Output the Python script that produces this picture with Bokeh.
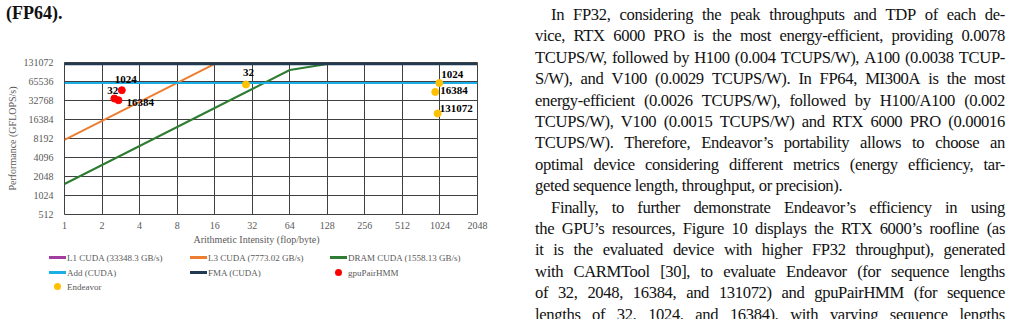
from bokeh.plotting import figure
from bokeh.models import (ColumnDataSource, Title, Div, NumeralTickFormatter, FixedTicker, Range1d)
from bokeh.layouts import row, column
from bokeh.embed import file_html
from bokeh.resources import INLINE
from bokeh.core.properties import value

# ---------------- data ----------------
ai_ticks = [1, 2, 4, 8, 16, 32, 64, 128, 256, 512, 1024, 2048]
perf_ticks = [512, 1024, 2048, 4096, 8192, 16384, 32768, 65536, 131072]

roof_ai = [1, 2, 4, 8, 16, 32, 64, 128, 256, 512, 1024, 2048]
l1_ai = []
l1_perf = []
l3_perf = [7773, 15546, 31092, 62184, 124368, 124000, 124000, 124000, 124000, 124000, 124000, 124000]
dram_perf = [1558, 3116, 6233, 12465, 24930, 49860, 99720, 124000, 124000, 124000, 124000, 124000]
add_perf = [62000, 62000, 62000, 62000, 62000, 62000, 62000, 62000, 62000, 62000, 62000, 62000]
fma_perf = [124000, 124000, 124000, 124000, 124000, 124000, 124000, 124000, 124000, 124000, 124000, 124000]

gpu_len = ["32", "1024", "16384"]
gpu_ai = [2.51, 2.88, 2.71]
gpu_perf = [35200, 47700, 33100]

end_len = ["32", "1024", "16384", "131072"]
end_ai = [28.5, 1011, 939, 981]
end_perf = [58800, 62000, 44800, 20400]

legend_labels = ["L1 CUDA (33348.3 GB/s)", "L3 CUDA (7773.02 GB/s)", "DRAM CUDA (1558.13 GB/s)",
                 "Add (CUDA)", "FMA (CUDA)", "gpuPairHMM", "Endeavor"]

# ---------------- styles / layout constants ----------------
SERIF = "Liberation Serif"
GRAY = "#595959"
GRID = "#404040"
C_L1, C_L3, C_DRAM = "#A23DA2", "#ED7D31", "#2E7D32"
C_ADD, C_FMA, C_GPU, C_END = "#1AAFE6", "#1F3A52", "#FF0000", "#FFC000"
legend_colors = [C_L1, C_L3, C_DRAM, C_ADD, C_FMA, C_GPU, C_END]
legend_kind = ["line"] * 5 + ["dot"] * 2

gpu_dx = [-7, -7, 8]
gpu_dy = [-8, -11, 2]
end_dx = [-3, 2, 5, 2]
end_dy = [-12, -9, -1, -5]

# ---------------- caption fragment above chart ----------------
fp64 = Div(text=('<div style="position:relative;width:500px;height:30px;">'
                 '<div style="position:absolute;left:6px;top:3px;font-family:\'Liberation Serif\',serif;'
                 'font-weight:bold;font-size:18px;line-height:20px;color:#111;white-space:nowrap;">'
                 '(FP64).</div></div>'),
           width=500, height=30, margin=0)

# ---------------- main chart ----------------
p = figure(width=500, height=220, x_axis_type="log", y_axis_type="log",
           x_range=Range1d(1, 2048), y_range=Range1d(512, 131072),
           output_backend="svg", toolbar_location=None,
           min_border_left=64, min_border_right=23, min_border_top=32, min_border_bottom=36)
p.background_fill_color = "white"
p.border_fill_color = "white"
p.outline_line_color = GRID
p.outline_line_width = 1

for ax, ticks in ((p.xaxis[0], ai_ticks), (p.yaxis[0], perf_ticks)):
    ax.ticker = FixedTicker(ticks=ticks)
    ax.formatter = NumeralTickFormatter(format="0")
    ax.axis_line_color = None
    ax.major_tick_line_color = None
    ax.minor_tick_line_color = None
    ax.major_tick_out = 0
    ax.major_tick_in = 0
    ax.minor_tick_out = 0
    ax.minor_tick_in = 0
    ax.major_label_text_font = SERIF
    ax.major_label_text_font_size = "10px"
    ax.major_label_text_color = GRAY
p.xaxis.major_label_standoff = 7
p.yaxis.major_label_standoff = 11

p.yaxis.axis_label = "Performance (GFLOPS/s)"
p.yaxis.axis_label_text_font = SERIF
p.yaxis.axis_label_text_font_size = "10px"
p.yaxis.axis_label_text_font_style = "normal"
p.yaxis.axis_label_text_color = GRAY
p.yaxis.axis_label_standoff = 3

p.xgrid.ticker = FixedTicker(ticks=ai_ticks)
p.ygrid.ticker = FixedTicker(ticks=perf_ticks)
p.xgrid.grid_line_color = GRID
p.ygrid.grid_line_color = GRID

xt = Title(text="Arithmetic Intensity (flop/byte)", align="left", offset=129,
           text_font=SERIF, text_font_size="10px", text_font_style="normal",
           text_color=GRAY, standoff=0)
p.add_layout(xt, "below")

p.line(l1_ai, l1_perf, line_color=C_L1, line_width=2.5)
p.line(roof_ai, dram_perf, line_color=C_DRAM, line_width=2)
p.line(roof_ai, l3_perf, line_color=C_L3, line_width=2)
p.line(roof_ai, add_perf, line_color=C_ADD, line_width=2)
p.line(roof_ai, fma_perf, line_color=C_FMA, line_width=2.5)

gsrc = ColumnDataSource(dict(x=gpu_ai, y=gpu_perf, t=gpu_len, dx=gpu_dx, dy=gpu_dy))
esrc = ColumnDataSource(dict(x=end_ai, y=end_perf, t=end_len, dx=end_dx, dy=end_dy))
p.scatter("x", "y", source=gsrc, size=7, fill_color=C_GPU, line_color=C_GPU)
p.scatter("x", "y", source=esrc, size=7, fill_color=C_END, line_color=C_END)
for src in (gsrc, esrc):
    p.text("x", "y", text="t", source=src, x_offset="dx", y_offset="dy",
           text_font=value(SERIF), text_font_style="bold", text_font_size="11px",
           text_align="left", text_baseline="middle", text_color="black")

# ---------------- legend (HTML block under the chart) ----------------
col_x = [49, 190, 330]
row_y = [7.7, 22.7, 36.7]
GLYPH_W = 17
lp = ['<div style="position:relative;width:500px;height:69px;font-family:\'Liberation Serif\',serif;'
      f'font-size:9px;color:{GRAY};">']
for k, (lbl, kind, c) in enumerate(zip(legend_labels, legend_kind, legend_colors)):
    x0 = col_x[k % 3]
    y0 = row_y[k // 3]
    if kind == "line":
        lp.append(f'<div style="position:absolute;left:{x0}px;top:{y0 - 1.5:.2f}px;width:{GLYPH_W}px;'
                  f'height:3px;background:{c};"></div>')
    else:
        lp.append(f'<div style="position:absolute;left:{x0 + GLYPH_W / 2 - 3.5:.1f}px;top:{y0 - 3.5:.2f}px;'
                  f'width:7px;height:7px;border-radius:50%;background:{c};"></div>')
    lp.append(f'<div style="position:absolute;left:{x0 + GLYPH_W + 1}px;top:{y0 - 7:.2f}px;'
              f'height:14px;line-height:14px;white-space:nowrap;">{lbl}</div>')
lp.append("</div>")
legend_div = Div(text="".join(lp), width=500, height=69, margin=0)

# ---------------- body text (right column) ----------------
lines = [
    ("In FP32, considering the peak throughputs and TDP of each de-", True, True),
    ("vice, RTX 6000 PRO is the most energy-efficient, providing 0.0078", False, True),
    ("TCUPS/W, followed by H100 (0.004 TCUPS/W), A100 (0.0038 TCUP-", False, True),
    ("S/W), and V100 (0.0029 TCUPS/W). In FP64, MI300A is the most", False, True),
    ("energy-efficient (0.0026 TCUPS/W), followed by H100/A100 (0.002", False, True),
    ("TCUPS/W), V100 (0.0015 TCUPS/W) and RTX 6000 PRO (0.00016", False, True),
    ("TCUPS/W). Therefore, Endeavor\u2019s portability allows to choose an", False, True),
    ("optimal device considering different metrics (energy efficiency, tar-", False, True),
    ("geted sequence length, throughput, or precision).", False, False),
    ("Finally, to further demonstrate Endeavor\u2019s efficiency in using", True, True),
    ("the GPU\u2019s resources, Figure 10 displays the RTX 6000\u2019s roofline (as", False, True),
    ("it is the evaluated device with higher FP32 throughput), generated", False, True),
    ("with CARMTool [30], to evaluate Endeavor (for sequence lengths", False, True),
    ("of 32, 2048, 16384, and 131072) and gpuPairHMM (for sequence", False, True),
    ("lengths of 32, 1024, and 16384), with varying sequence lengths", False, True),
]
parts = ['<div style="position:relative;width:524px;height:319px;overflow:hidden;margin:0;'
         'font-family:\'Liberation Serif\',serif;font-size:16.6px;letter-spacing:-0.35px;color:#111;">']
for i, (txt, indent, just) in enumerate(lines):
    top = 14 + 21.4 * i - 10.1
    left = 35 + (16 if indent else 0)
    width = 470 - (16 if indent else 0)
    style = (f"position:absolute;left:{left}px;top:{top:.1f}px;width:{width}px;"
             "height:21.4px;line-height:21.4px;white-space:nowrap;")
    if just:
        words = "".join(f"<span>{w}</span>" for w in txt.split(" "))
        parts.append(f'<div style="{style}display:flex;justify-content:space-between;">{words}</div>')
    else:
        parts.append(f'<div style="{style}">{txt}</div>')
parts.append("</div>")
text_div = Div(text="".join(parts), width=524, height=319, margin=0)

layout = row(column(fp64, p, legend_div, spacing=0), text_div, spacing=0)
open("out.html", "w").write(file_html(layout, INLINE))
